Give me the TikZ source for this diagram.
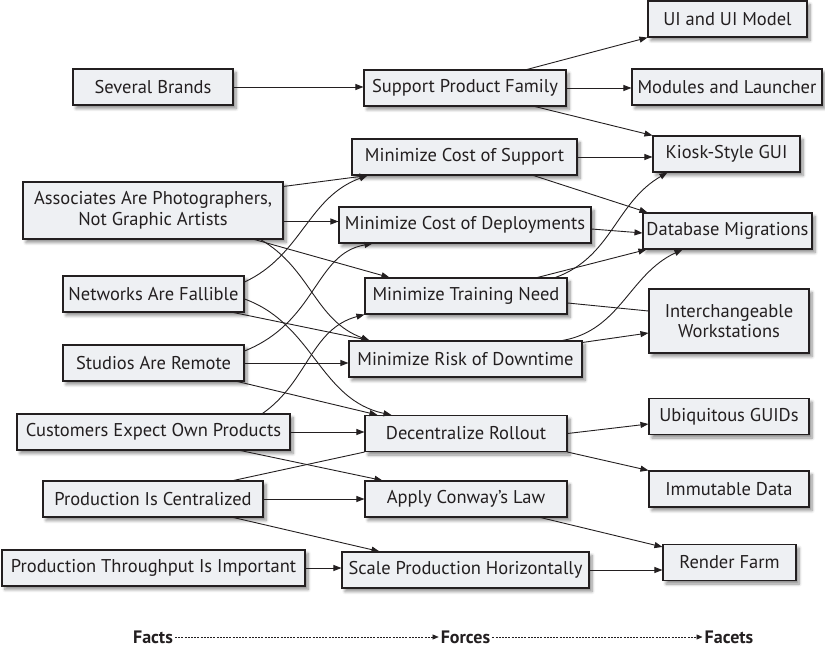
\documentclass[tikz,border=0pt]{standalone}
\usepackage{fontspec}
\setmainfont{PT Sans}
\usetikzlibrary{arrows.meta,shadows.blur}

\definecolor{boxfill}{RGB}{238,240,243}
\definecolor{ink}{RGB}{35,31,32}

\begin{document}
\begin{tikzpicture}[x=1pt,y=1pt,
  box/.style={draw=ink, line width=1.1pt, fill=boxfill, rectangle,
    minimum height=36pt, inner sep=0pt, align=center,
    font=\fontsize{18.5}{20.5}\selectfont, text=ink,
    blur shadow={shadow xshift=3pt, shadow yshift=-3.5pt,
      shadow blur radius=3pt, shadow blur steps=6, shadow opacity=45}},
  arr/.style={draw=ink, line width=0.9pt, -{Triangle[length=8pt,width=6pt]}},
  link/.style={draw=ink, line width=0.9pt},
  legend/.style={font=\bfseries\fontsize{18}{20}\selectfont, text=ink, inner sep=2pt},
  dashlink/.style={draw=ink, line width=0.6pt, dash pattern=on 2pt off 1.2pt,
    -{Triangle[length=6pt,width=5pt]}}
]
\useasboundingbox (0,0) rectangle (825,-647);

% ---- facts ----
\node[box, minimum width=160pt] (brands)  at (153,-87)    {Several Brands};
\node[box, minimum width=260pt, minimum height=57pt] (assoc) at (153,-210.5)
  {Associates Are Photographers,\\Not Graphic Artists};
\node[box, minimum width=181pt] (net)     at (153.5,-294) {Networks Are Fallible};
\node[box, minimum width=181pt] (studios) at (153.5,-363) {Studios Are Remote};
\node[box, minimum width=273pt] (cust)    at (153.5,-432) {Customers Expect Own Products};
\node[box, minimum width=220pt] (prodc)   at (153,-499)   {Production Is Centralized};
\node[box, minimum width=303pt] (prodt)   at (153.5,-568) {Production Throughput Is Important};

% ---- forces ----
\node[box, minimum width=202pt] (spf) at (465,-88)    {Support Product Family};
\node[box, minimum width=225pt] (mcs) at (464.5,-157) {Minimize Cost of Support};
\node[box, minimum width=252pt] (mcd) at (465,-225)   {Minimize Cost of Deployments};
\node[box, minimum width=202pt] (mtn) at (466,-296)   {Minimize Training Need};
\node[box, minimum width=233pt] (mrd) at (465.5,-359) {Minimize Risk of Downtime};
\node[box, minimum width=202pt] (dro) at (466,-433.5) {Decentralize Rollout};
\node[box, minimum width=202pt] (acl) at (466,-499)   {Apply Conway’s Law};
\node[box, minimum width=247pt] (sph) at (465.5,-570) {Scale Production Horizontally};

% ---- facets ----
\node[box, minimum width=159pt] (ui)    at (727.5,-19)  {UI and UI Model};
\node[box, minimum width=190pt] (mod)   at (727,-87)    {Modules and Launcher};
\node[box, minimum width=147pt] (kiosk) at (726.5,-154) {Kiosk-Style GUI};
\node[box, minimum width=169pt] (dbm)   at (727.5,-231) {Database Migrations};
\node[box, minimum width=160pt, minimum height=64pt] (iw) at (729,-321)
  {Interchangeable\\Workstations};
\node[box, minimum width=160pt] (guid)  at (729,-416.5) {Ubiquitous GUIDs};
\node[box, minimum width=160pt] (imm)   at (729,-489)   {Immutable Data};
\node[box, minimum width=133pt] (rf)    at (729.5,-562.5) {Render Farm};

% ---- facts to forces ----
\draw[arr] (brands.east) -- (brands.east -| spf.west);
\draw[arr] ([yshift=-5pt]assoc.north east) -- ([xshift=16pt]mcs.south west);
\draw[arr] ([yshift=-11pt]assoc.east) -- ([yshift=3.5pt]mcd.west);
\draw[arr] ([xshift=-29pt]assoc.south east) -- ([xshift=25pt]mtn.north west);
\draw[arr] ([xshift=-23pt]assoc.south east) to[out=-30,in=160] ([xshift=21pt]mrd.north west);

\draw[arr] ([yshift=12pt]net.east) to[out=25,in=200] ([xshift=16pt]mcs.south west);
\draw[arr] ([xshift=-11pt]net.south east) -- ([xshift=21pt]mrd.north west);
\draw[arr] ([yshift=-5pt]net.east) to[out=-20,in=168] ([xshift=27pt]dro.north west);

\draw[arr] ([yshift=12pt]studios.east) to[out=22,in=190,out looseness=1.2,in looseness=0.9] ([xshift=34pt]mcd.south west);
\draw[arr] (studios.east) -- (studios.east -| mrd.west);
\draw[arr] ([xshift=-7pt]studios.south east) -- ([xshift=13pt]dro.north west);

\draw[arr] ([xshift=-28pt]cust.north east) to[out=35,in=195] (mtn.south west);
\draw[arr] (cust.east) -- (cust.east -| dro.west);
\draw[arr] ([xshift=-50pt]cust.south east) -- ([xshift=18pt]acl.north west);

\draw[link] ([xshift=-30pt]prodc.north east) -- (dro.south west);
\draw[arr] (prodc.east) -- (prodc.east -| acl.west);
\draw[arr] ([xshift=-30pt]prodc.south east) -- ([xshift=38pt]sph.north west);

\draw[arr] (prodt.east) -- (prodt.east -| sph.west);

% ---- forces to facets ----
\draw[arr] ([xshift=62pt]spf.north) -- (ui.south west);
\draw[arr] (spf.east) -- (spf.east -| mod.west);
\draw[arr] ([xshift=70pt]spf.south) -- (kiosk.north west);

\draw[arr] (mcs.east) -- (mcs.east -| kiosk.west);
\draw[arr] ([xshift=-44pt]mcs.south east) -- ([xshift=5pt]dbm.north west);

\draw[arr] ([yshift=-4pt]mcd.east) -- ([yshift=-2pt]dbm.west);

\draw[arr] ([xshift=-30pt]mtn.north east) -- ([xshift=4pt]dbm.south west);
\draw[arr] ([xshift=-12pt]mtn.north east) to[out=20,in=210] ([xshift=15pt]kiosk.south west);
\draw[link] ([yshift=-7pt]mtn.east) -- ([yshift=10pt]iw.west);

\draw[arr] ([xshift=-20pt]mrd.north east) to[out=10,in=205] ([xshift=40pt]dbm.south west);
\draw[arr] ([yshift=-2pt]mrd.north east) -- ([yshift=-12pt]iw.west);

\draw[arr] (dro.east) -- ([yshift=-7.5pt]guid.west);
\draw[arr] (dro.south east) -- (imm.north west);

\draw[arr] ([xshift=-27pt]acl.south east) -- ([yshift=-3pt]rf.north west);
\draw[arr] (sph.east) -- (sph.east -| rf.west);

% ---- legend ----
\node[legend] (facts)  at (153,-637)   {Facts};
\node[legend] (forces) at (465.5,-637) {Forces};
\node[legend] (facets) at (729,-637)   {Facets};
\draw[dashlink] (facts.east) -- (forces.west);
\draw[dashlink] (forces.east) -- (facets.west);
\end{tikzpicture}
\end{document}
